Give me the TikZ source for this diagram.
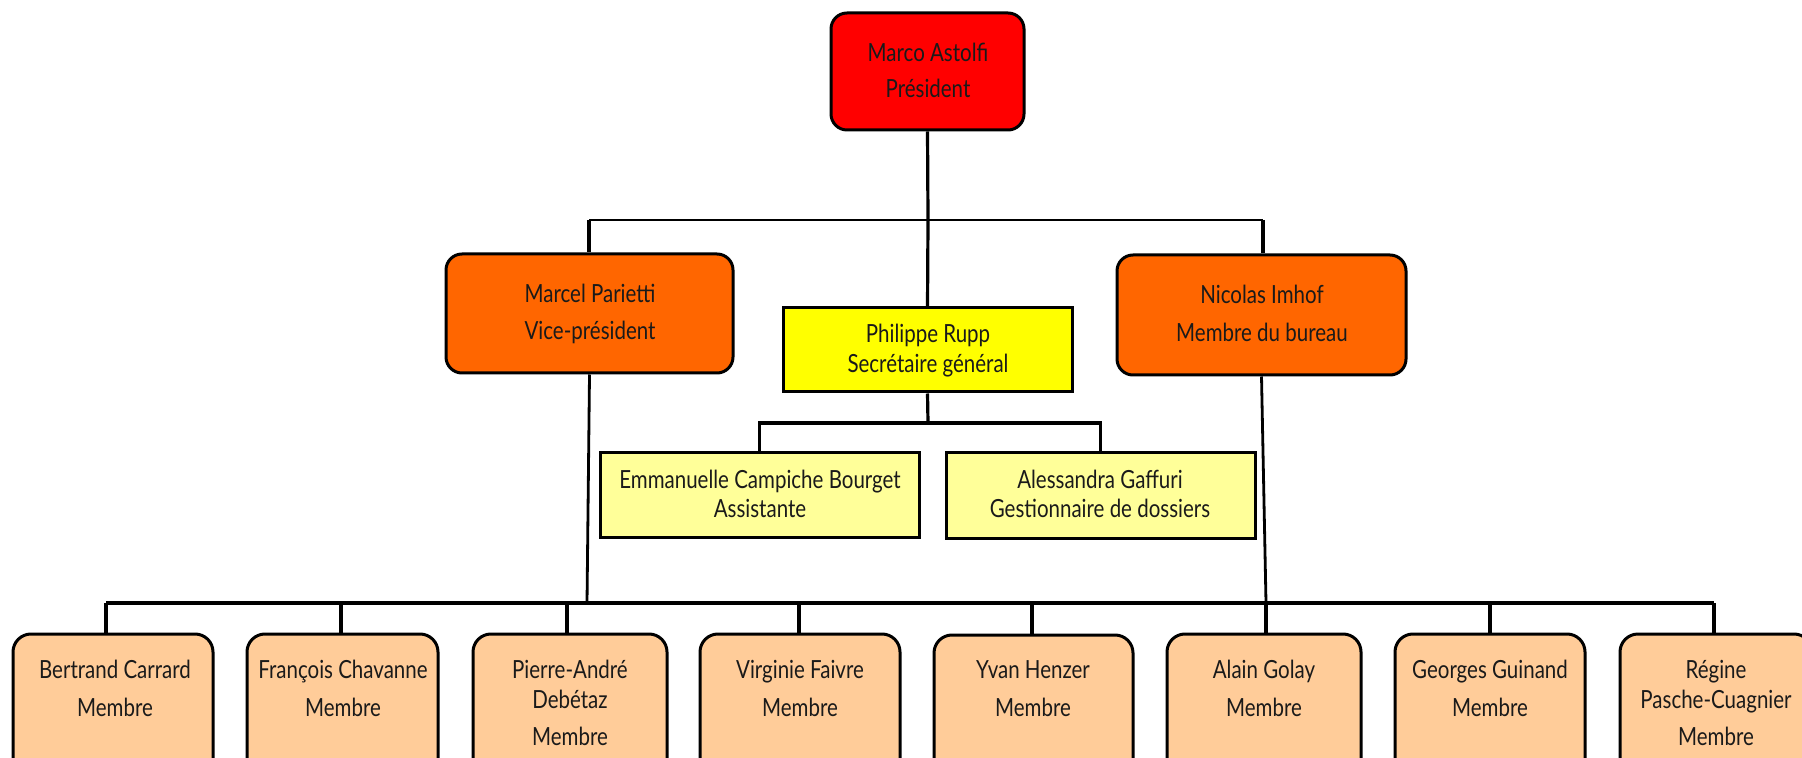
\documentclass[tikz,border=0pt]{standalone}
\usepackage{fontspec}
\setmainfont{Lato}[FakeStretch=0.82]
\usetikzlibrary{fit}
\definecolor{cred}{HTML}{FF0000}
\definecolor{corange}{HTML}{FF6600}
\definecolor{cyellow}{HTML}{FFFF00}
\definecolor{clyellow}{HTML}{FFFF99}
\definecolor{cpeach}{HTML}{FFCC99}
\definecolor{ctext}{HTML}{1A1A1A}
\tikzset{
  boxbase/.style={draw=black, line width=1.5pt, inner sep=0pt},
  roundbox/.style={boxbase, rounded corners=8pt},
  membox/.style={boxbase, rounded corners=9pt, fill=cpeach},
  sqbox/.style={boxbase},
  txt/.style={anchor=base, inner sep=0pt, text=ctext, font=\fontsize{12.5}{14}\selectfont},
  conn/.style={draw=black, line width=1.6pt},
  connthin/.style={draw=black, line width=1.4pt},
}
\begin{document}
\begin{tikzpicture}[x=0.5pt, y=-0.5pt]
\useasboundingbox (0,0) rectangle (1802,758);
\clip (0,0) rectangle (1802,758);
% top level
\node[roundbox, fill=cred, fit={(831,13) (1024,130)}] (pres) {};
\node[txt] (presa) at (928,62) {Marco Astolfi};
\node[txt] (presb) at (928,98) {Président};
% second level
\node[roundbox, fill=corange, fit={(446,254) (733,373)}] (vp) {};
\node[txt] (vpa) at (590,303) {Marcel Parietti};
\node[txt] (vpb) at (590,340) {Vice-président};
\node[roundbox, fill=corange, fit={(1117,255) (1406,375)}] (imh) {};
\node[txt] (imha) at (1262,304) {Nicolas Imhof};
\node[txt] (imhb) at (1262,342) {Membre du bureau};
\node[sqbox, fill=cyellow, fit={(783,308) (1072,392)}] (rupp) {};
\node[txt] (ruppa) at (928,343) {Philippe Rupp};
\node[txt] (ruppb) at (928,373) {Secrétaire général};
% third level
\node[sqbox, fill=clyellow, fit={(600,453) (919,537)}] (em) {};
\node[txt] (ema) at (760,488) {Emmanuelle Campiche Bourget};
\node[txt] (emb) at (760,517) {Assistante};
\node[sqbox, fill=clyellow, fit={(946,453) (1255,538)}] (al) {};
\node[txt] (ala) at (1100,488) {Alessandra Gaffuri};
\node[txt] (alb) at (1100,517) {Gestionnaire de dossiers};
% members
\node[membox, fit={(13,634) (213,780)}] (m1) {};
\node[txt] (m1a) at (115,678) {Bertrand Carrard};
\node[txt] (m1b) at (115,716) {Membre};
\node[membox, fit={(247,634) (438,780)}] (m2) {};
\node[txt] (m2a) at (343,678) {François Chavanne};
\node[txt] (m2b) at (343,716) {Membre};
\node[membox, fit={(473,634) (667,780)}] (m3) {};
\node[txt] (m3a) at (570,678) {Pierre-André};
\node[txt] (m3b) at (570,708) {Debétaz};
\node[txt] (m3c) at (570,745) {Membre};
\node[membox, fit={(700,634) (900,780)}] (m4) {};
\node[txt] (m4a) at (800,678) {Virginie Faivre};
\node[txt] (m4b) at (800,716) {Membre};
\node[membox, fit={(934,635) (1133,780)}] (m5) {};
\node[txt] (m5a) at (1033,678) {Yvan Henzer};
\node[txt] (m5b) at (1033,716) {Membre};
\node[membox, fit={(1167,634) (1361,780)}] (m6) {};
\node[txt] (m6a) at (1264,678) {Alain Golay};
\node[txt] (m6b) at (1264,716) {Membre};
\node[membox, fit={(1395,634) (1585,780)}] (m7) {};
\node[txt] (m7a) at (1490,678) {Georges Guinand};
\node[txt] (m7b) at (1490,716) {Membre};
\node[membox, fit={(1620,634) (1812,780)}] (m8) {};
\node[txt] (m8a) at (1716,678) {Régine};
\node[txt] (m8b) at (1716,708) {Pasche-Cuagnier};
\node[txt] (m8c) at (1716,745) {Membre};
% bus coordinates
\coordinate (busM) at (928,220);
\coordinate (busL) at (589,220);
\coordinate (busR) at (1263,220);
\coordinate (subM) at (928,423);
\coordinate (j1) at (587,603);
\coordinate (j2) at (1266,603);
\coordinate (bL) at (106,603);
\coordinate (bR) at (1714,603);
\coordinate (d1) at (106,603);
\coordinate (d2) at (341,603);
\coordinate (d3) at (567,603);
\coordinate (d4) at (799,603);
\coordinate (d5) at (1032,603);
\coordinate (d6) at (1266,603);
\coordinate (d7) at (1490,603);
\coordinate (d8) at (1714,603);
% connectors
\draw[connthin] (busL) -- (busR);
\draw[conn] (pres.south) -- (busM) -- (rupp.north);
\draw[conn] (busL) -- (busL |- vp.north);
\draw[conn] (busR) -- (busR |- imh.north);
\draw[conn] (rupp.south) -- (subM);
\draw[conn] (em.north) -- (em.north |- subM) -- (al.north |- subM) -- (al.north);
\draw[connthin] (vp.south) -- (j1);
\draw[connthin] (imh.south) -- (j2);
\draw[conn] (bL) -- (bR);
\foreach \i in {1,...,8} { \draw[conn] (d\i) -- (d\i |- m\i.north); }
\end{tikzpicture}
\end{document}
